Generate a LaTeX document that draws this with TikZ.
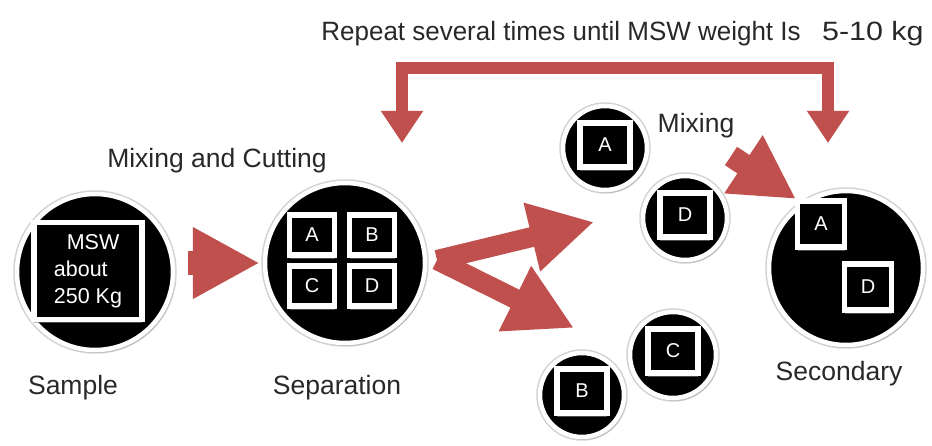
\documentclass[tikz,border=0pt]{standalone}
\usepackage{fontspec}
\setmainfont{Liberation Sans}
\usetikzlibrary{arrows.meta,shadows}
\definecolor{flowred}{RGB}{192,80,77}
\definecolor{labelgray}{RGB}{40,40,40}

\begin{document}
\begin{tikzpicture}[x=1pt,y=-1pt,
    disc/.style={circle,fill=black,draw=white,line width=4.5pt,inner sep=0pt,
      preaction={draw=gray!35,line width=7.5pt},
      drop shadow={opacity=0.25,shadow xshift=2pt,shadow yshift=-3pt}},
    box/.style={rectangle,fill=black,draw=white,line width=5.5pt,inner sep=0pt,
      text=white,font=\fontsize{20}{20}\selectfont,
      drop shadow={fill=gray,opacity=0.6,shadow xshift=0pt,shadow yshift=-4pt}},
    lbl/.style={text=labelgray,font=\fontsize{26.5}{30}\selectfont,anchor=base},
    redarrow/.style={draw=flowred,line join=miter}]
  \useasboundingbox (0,0) rectangle (932,446);

  % loop back
  \node[lbl,anchor=base west,xscale=0.98] (note) at (318,41) {Repeat several times until MSW weight Is};
  \node[lbl,anchor=base west,xscale=1.15] (noteKg) at (818,41) {5-10 kg};
  \coordinate (loopL) at (402,143);
  \coordinate (loopTop) at (402,68);
  \coordinate (loopR) at (828,143);
  \draw[redarrow,line width=12pt,{Triangle[length=32pt,width=40pt]}-{Triangle[length=32pt,width=40pt]}]
    (loopL) -- (loopTop) -| (loopR);

  % sample
  \node[disc,minimum size=156pt] (sample) at (95,272) {};
  \node[box,minimum width=108pt,minimum height=97pt,align=left,font=\fontsize{21.5}{27}\selectfont]
    (msw) at (88,271) {\hspace{0.6em}MSW\\about\\250 Kg\hspace{0.6em}};
  \node[lbl] (samplelbl) at (73,395) {Sample};

  % separation
  \node[lbl] (cutlbl) at (217,168) {Mixing and Cutting};
  \node[disc,minimum size=160pt] (sep) at (345,263) {};
  \node[box,minimum width=45pt,minimum height=40pt] (sepA) at (312,235) {A};
  \node[box,minimum width=45pt,minimum height=40pt] (sepB) at (372,235) {B};
  \node[box,minimum width=45pt,minimum height=40pt] (sepC) at (312,286) {C};
  \node[box,minimum width=45pt,minimum height=40pt] (sepD) at (372,286) {D};
  \node[lbl] (seplbl) at (337,395) {Separation};
  \draw[redarrow,line width=24pt,shorten <=13pt,shorten >=3pt,-{Triangle[length=67pt,width=67pt]}]
    (sample.east |- sep.west) -- (sep.west);

  % parts
  \node[disc,minimum size=84pt] (partA) at (605,148) {};
  \node[box,minimum width=50pt,minimum height=44pt] (boxA) at (605,145) {A};
  \node[disc,minimum size=84pt] (partD) at (685,218) {};
  \node[box,minimum width=50pt,minimum height=44pt] (boxD) at (685,215) {D};
  \node[disc,minimum size=86pt] (partC) at (673,355) {};
  \node[box,minimum width=50pt,minimum height=44pt] (boxC) at (673,351) {C};
  \node[disc,minimum size=84pt] (partB) at (582,395) {};
  \node[box,minimum width=50pt,minimum height=44pt] (boxB) at (582,391) {B};
  \node[lbl] (mixlbl) at (696,133) {Mixing};

  \coordinate (fork) at (437,260);
  \coordinate (upTip) at (594,222);
  \coordinate (downTip) at (574,328);
  \draw[redarrow,line width=20pt,-{Triangle[length=64pt,width=66pt]}] (fork) -- (upTip);
  \draw[redarrow,line width=20pt,-{Triangle[length=66pt,width=68pt]}] (fork) -- (downTip);

  % secondary
  \node[disc,minimum size=154pt] (second) at (846,268) {};
  \node[box,minimum width=47pt,minimum height=46pt] (secA) at (821,224) {A};
  \node[box,minimum width=47pt,minimum height=46pt] (secD) at (868,287) {D};
  \node[lbl] (secondlbl) at (839,381) {Secondary};

  \coordinate (mixStart) at (731,156);
  \coordinate (mixTip) at (796,199);
  \draw[redarrow,line width=22pt,-{Triangle[length=63pt,width=65pt]}] (mixStart) -- (mixTip);
\end{tikzpicture}
\end{document}
